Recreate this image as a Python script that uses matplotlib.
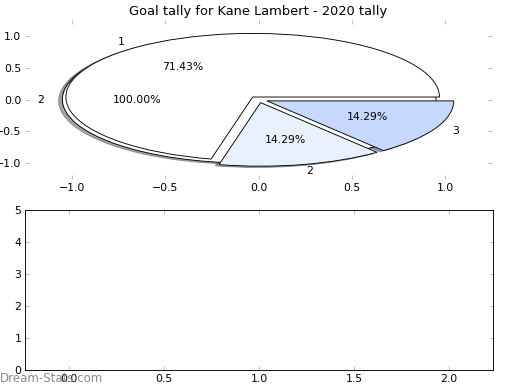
import matplotlib
matplotlib.use('Agg')
import matplotlib.pyplot as plt

title = "Goal tally for Kane Lambert - 2020 tally"
total_values = [1]
total_labels = ['2']
total_colors = ['white']
goal_values = [5, 1, 1]
goal_labels = ['1', '2', '3']
goal_colors = ['white', '#e8f0fe', '#c6d9fd']
pie_ticks = [-1.0, -0.5, 0.0, 0.5, 1.0]
bottom_xticks = [0.0, 0.5, 1.0, 1.5, 2.0]
bottom_yticks = [0, 1, 2, 3, 4, 5]
watermark = "Dream-Stats.com"

W, H = 520, 390
DPI = 65
fig = plt.figure(figsize=(W / DPI, H / DPI), dpi=DPI)

def axrect(l, t, r, b):
    return [l / W, 1 - b / H, (r - l) / W, (b - t) / H]

fs = 12
ax1 = fig.add_axes(axrect(25, 20, 492, 179))
ax2 = fig.add_axes(axrect(25, 210, 493, 370))

# shadow offset: 0.02 data units (Shadow scales its offset by dpi/72)
off = -0.02 * 72 / DPI
shadow = {'ox': off, 'oy': off, 'shade': 0.7}
wp = {'edgecolor': 'black', 'linewidth': 1.0}
ax1.pie(total_values, labels=total_labels, colors=total_colors, explode=[0.05],
        shadow=shadow, startangle=0, autopct='%.2f%%', wedgeprops=wp,
        textprops={'fontsize': fs}, frame=True)
ax1.pie(goal_values, labels=goal_labels, colors=goal_colors,
        explode=[0.05] * len(goal_values), shadow=shadow, startangle=0,
        autopct='%.2f%%', wedgeprops=wp, textprops={'fontsize': fs}, frame=True)
ax1.set_aspect('auto')
ax1.set_xlim(-1.25, 1.25)
ax1.set_ylim(-1.25, 1.25)
ax1.set_xticks(pie_ticks)
ax1.set_yticks(pie_ticks)
for s in ax1.spines.values():
    s.set_visible(False)
ax1.set_title(title, fontsize=14.4, pad=5)

ax2.set_xlim(-0.23, 2.23)
ax2.set_ylim(0, 5)
ax2.set_xticks(bottom_xticks)
ax2.set_yticks(bottom_yticks)
for s in ax2.spines.values():
    s.set_linewidth(1.0)

for ax in (ax1, ax2):
    ax.tick_params(direction='in', length=4, width=0.6, color='#888888',
                   top=True, right=True, labelsize=fs, pad=4)
    ax.patch.set_facecolor('white')

fig.text(0.0, 0.013, watermark, color='#8a8a8a', fontsize=13,
         family='DejaVu Sans', ha='left', va='bottom')

fig.savefig('out.png', dpi=DPI, facecolor='white')
